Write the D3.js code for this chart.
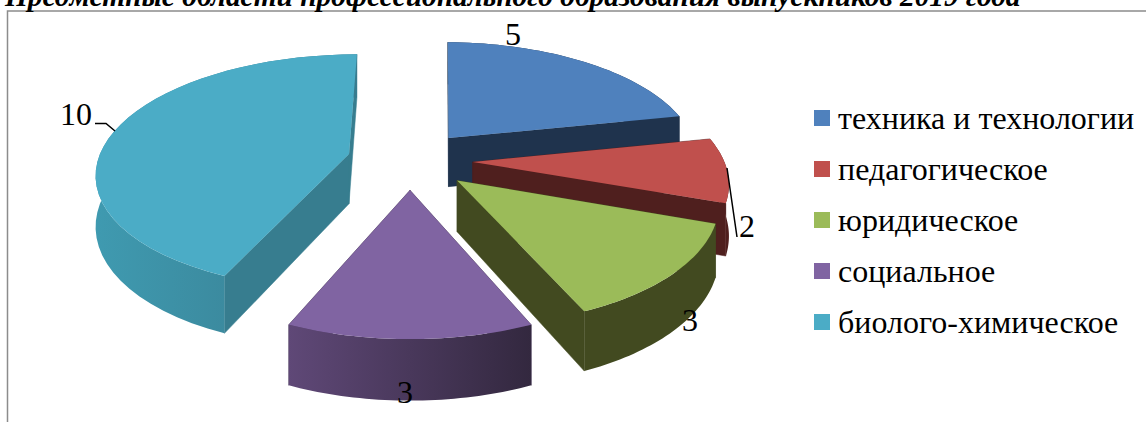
<!DOCTYPE html>
<html>
<head>
<meta charset="utf-8">
<script src="https://cdn.jsdelivr.net/npm/d3@7/dist/d3.min.js"></script>
<style>
body { margin: 0; background: #fff; overflow: hidden; }
text { font-family: "Liberation Serif", serif; fill: #000; }
</style>
</head>
<body>
<div id="chart"></div>
<script>
var titleText = "Предметные области профессионального образования выпускников 2019 года";
var categories = ["техника и технологии", "педагогическое", "юридическое", "социальное", "биолого-химическое"];
var values = [5, 2, 3, 3, 10];

var topColors = ["#4f81bd", "#c0504d", "#9bbb59", "#8064a2", "#4bacc6"];
var wallColors = ["#1f334d", "#4f1f1e", "#424a20", "#3f2f50", "#377d8f"];
// left/right colours of the outer wall, same length as categories
var arcLeft = ["#1f334d", "#4f1f1e", "#424a20", "#5f4877", "#3f9ab0"];
var arcRight = ["#1f334d", "#4f1f1e", "#424a20", "#33283f", "#387b8e"];
var drawOrder = [0, 1, 4, 2, 3]; // back to front

var width = 1146, height = 422;

// 3D look: pie plane seen through a simple perspective
var cx = 410, cy = 160, scaleX = 251, scaleY = 116.4, persp = 0.15;
var explode = 0.25, depth = 50;

function project(px, py, down) {
    var s = 1 / (1 - persp * py);
    return [cx + scaleX * px * s, cy + scaleY * py * s + (down ? depth * s : 0)];
}

var svg = d3.select("#chart").append("svg")
    .attr("width", width)
    .attr("height", height);

// frame
svg.append("path")
    .attr("d", "M7.5,422V11H1146")
    .attr("fill", "none")
    .attr("stroke", "#8c8c8c")
    .attr("stroke-width", 1.5);

// title, cut by the top of the picture like in the source
svg.append("text")
    .attr("x", 5)
    .attr("y", 5.5)
    .attr("font-size", 29.4)
    .attr("font-weight", "bold")
    .attr("font-style", "italic")
    .text(titleText);

var defs = svg.append("defs");
var line = d3.line();
var pie = d3.pie().sort(null);
var arcs = pie(values);

drawOrder.forEach(function (i) {
    var a = arcs[i];
    var mid = (a.startAngle + a.endAngle) / 2;
    var ox = explode * Math.sin(mid), oy = -explode * Math.cos(mid);
    // the first slice starts a little late in the source picture
    var start = i === 0 ? a.startAngle + 0.02 : a.startAngle;

    var steps = d3.range(0, 41).map(function (k) {
        var t = start + (a.endAngle - start) * k / 40;
        return [ox + Math.sin(t), oy - Math.cos(t)];
    });

    var topRim = steps.map(function (p) { return project(p[0], p[1], false); });
    var lowRim = steps.map(function (p) { return project(p[0], p[1], true); });
    var apexTop = project(ox, oy, false), apexLow = project(ox, oy, true);
    var last = steps.length - 1;

    var g = svg.append("g").attr("class", "slice");

    // flat walls
    [[apexTop, topRim[0], lowRim[0], apexLow], [apexTop, topRim[last], lowRim[last], apexLow]].forEach(function (q) {
        g.append("path")
            .attr("d", line(q) + "Z")
            .attr("fill", wallColors[i])
            .attr("stroke", wallColors[i])
            .attr("stroke-width", 0.5);
    });

    // outer wall
    var grad = defs.append("linearGradient").attr("id", "wall" + i);
    grad.append("stop").attr("offset", "0%").attr("stop-color", arcLeft[i]);
    grad.append("stop").attr("offset", "100%").attr("stop-color", arcRight[i]);

    g.append("path")
        .attr("d", line(topRim.concat(lowRim.slice().reverse())) + "Z")
        .attr("fill", "url(#wall" + i + ")");

    // top face
    g.append("path")
        .attr("d", line([apexTop].concat(topRim)) + "Z")
        .attr("fill", topColors[i]);
});

// data labels
var labelX = [513, 747, 690, 405, 76];
var labelY = [45, 237, 331, 403, 125];
svg.selectAll(".label")
    .data(values)
    .enter()
    .append("text")
    .attr("class", "label")
    .attr("x", function (d, i) { return labelX[i]; })
    .attr("y", function (d, i) { return labelY[i]; })
    .attr("text-anchor", "middle")
    .attr("font-size", 32)
    .text(function (d) { return d; });

// leader lines
svg.append("path")
    .attr("d", "M95,123.5H106L115,131M727,168L737,237")
    .attr("fill", "none")
    .attr("stroke", "#000")
    .attr("stroke-width", 1.5);

// legend
var legendY = d3.scalePoint().domain(categories).range([110, 314]);
var legend = svg.selectAll(".legend")
    .data(categories)
    .enter()
    .append("g")
    .attr("class", "legend")
    .attr("transform", function (d) { return "translate(814," + legendY(d) + ")"; });

legend.append("rect")
    .attr("width", 16)
    .attr("height", 16)
    .attr("fill", function (d, i) { return topColors[i]; });

legend.append("text")
    .attr("x", 24)
    .attr("y", 19)
    .attr("font-size", 32)
    .text(function (d) { return d; });
</script>
</body>
</html>
